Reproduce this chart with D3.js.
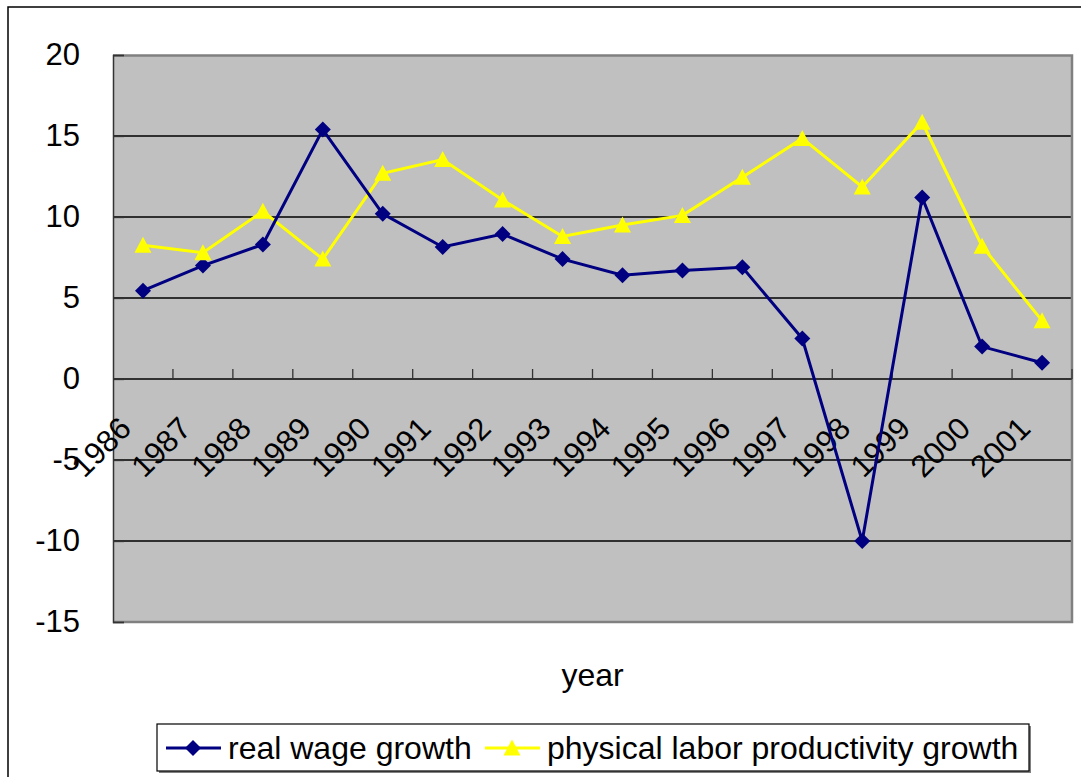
<!DOCTYPE html>
<html>
<head>
<meta charset="utf-8">
<script src="https://cdn.jsdelivr.net/npm/d3@7"></script>
<style>
  body { margin: 0; background: #fff; }
  text { font-family: Arial, "Liberation Sans", sans-serif; fill: #000; }
</style>
</head>
<body>
<div id="chart"></div>
<script>
// chart data
var years = ["1986", "1987", "1988", "1989", "1990", "1991", "1992", "1993",
             "1994", "1995", "1996", "1997", "1998", "1999", "2000", "2001"];
var realWage = [5.45, 7.0, 8.3, 15.4, 10.2, 8.15, 8.95, 7.4, 6.4, 6.7, 6.9, 2.5, -10.0, 11.2, 2.0, 1.0];
var productivity = [8.25, 7.8, 10.35, 7.4, 12.7, 13.55, 11.05, 8.8, 9.5, 10.1, 12.45, 14.85, 11.85, 15.85, 8.2, 3.6];
var yTicks = [-15, -10, -5, 0, 5, 10, 15, 20];
var seriesNames = ["real wage growth", "physical labor productivity growth"];

var svgWidth = 1081;
var svgHeight = 777;

var margin = { top: 55, right: 9, bottom: 155, left: 113 };
var width = svgWidth - margin.left - margin.right;
var height = svgHeight - margin.top - margin.bottom;

var svg = d3.select("#chart")
  .append("svg")
  .attr("width", svgWidth)
  .attr("height", svgHeight);

// outer chart frame
svg.append("rect")
  .attr("x", 8).attr("y", 7)
  .attr("width", 1090).attr("height", 800)
  .attr("fill", "none")
  .attr("stroke", "#000")
  .attr("stroke-width", 1.5);

var chartGroup = svg.append("g")
  .attr("transform", `translate(${margin.left}, ${margin.top})`);

// scales
var xScale = d3.scaleBand()
  .domain(years)
  .range([0, width]);

var yScale = d3.scaleLinear()
  .domain([-15, 20])
  .range([height, 0]);

// plot area
chartGroup.append("rect")
  .attr("width", width)
  .attr("height", height)
  .attr("fill", "#c0c0c0");

// gridlines
chartGroup.selectAll(".grid")
  .data(yTicks.filter(d => d > -15 && d < 20))
  .enter()
  .append("line")
  .attr("x1", 0)
  .attr("x2", width)
  .attr("y1", d => yScale(d))
  .attr("y2", d => yScale(d))
  .attr("stroke", "#000")
  .attr("stroke-width", 1.3);

// plot border (top, right, bottom)
chartGroup.append("path")
  .attr("d", `M0,0.5H${width}V${height}H0`)
  .attr("fill", "none")
  .attr("stroke", "#808080")
  .attr("stroke-width", 2.5);

// y axis
var leftAxis = d3.axisLeft(yScale)
  .tickValues(yTicks)
  .tickFormat(d => String(d))
  .tickSize(-11)
  .tickPadding(33);

var yAxisG = chartGroup.append("g").call(leftAxis);
yAxisG.select(".domain").attr("stroke", "#333").attr("stroke-width", 1.5);
yAxisG.selectAll(".tick line").attr("stroke", "#333").attr("stroke-width", 1.3);
yAxisG.selectAll(".tick text")
  .style("font-size", "31px")
  .attr("fill", "#000");

// x axis drawn at zero, ticks on category boundaries
var zeroY = yScale(0);
chartGroup.append("line")
  .attr("x1", 0).attr("x2", width)
  .attr("y1", zeroY).attr("y2", zeroY)
  .attr("stroke", "#333")
  .attr("stroke-width", 1.5);

chartGroup.selectAll(".xtick")
  .data(years.slice(1).concat(["end"]))
  .enter()
  .append("line")
  .attr("x1", (d, i) => xScale.step() * (i + 1))
  .attr("x2", (d, i) => xScale.step() * (i + 1))
  .attr("y1", zeroY)
  .attr("y2", zeroY - 10)
  .attr("stroke", "#333")
  .attr("stroke-width", 1.3);

// rotated year labels
chartGroup.selectAll(".yearLabel")
  .data(years)
  .enter()
  .append("text")
  .attr("transform", d => `translate(${xScale(d) + xScale.bandwidth() / 2 - 42}, ${zeroY + 68}) rotate(-45)`)
  .attr("dy", "0.35em")
  .style("text-anchor", "middle")
  .style("font-size", "31px")
  .text(d => d);

// lines
var line = d3.line()
  .x((d, i) => xScale(years[i]) + xScale.bandwidth() / 2)
  .y(d => yScale(d));

chartGroup.append("path")
  .datum(productivity)
  .attr("d", line)
  .attr("fill", "none")
  .attr("stroke", "#ffff00")
  .attr("stroke-width", 3);

chartGroup.append("path")
  .datum(realWage)
  .attr("d", line)
  .attr("fill", "none")
  .attr("stroke", "#000080")
  .attr("stroke-width", 3);

var diamond = "M0,-8L8,0L0,8L-8,0Z";
var triangle = "M0,-8.5L8.5,7.5L-8.5,7.5Z";

chartGroup.selectAll(".wagePt")
  .data(realWage)
  .enter()
  .append("path")
  .attr("d", diamond)
  .attr("transform", (d, i) => `translate(${xScale(years[i]) + xScale.bandwidth() / 2}, ${yScale(d)})`)
  .attr("fill", "#000080");

chartGroup.selectAll(".prodPt")
  .data(productivity)
  .enter()
  .append("path")
  .attr("d", triangle)
  .attr("transform", (d, i) => `translate(${xScale(years[i]) + xScale.bandwidth() / 2}, ${yScale(d)})`)
  .attr("fill", "#ffff00");

// axis title
svg.append("text")
  .attr("x", margin.left + width / 2)
  .attr("y", 686)
  .style("text-anchor", "middle")
  .style("font-size", "32px")
  .text("year");

// legend
var legend = svg.append("g");
legend.append("rect")
  .attr("x", 159).attr("y", 726)
  .attr("width", 872).attr("height", 47)
  .attr("fill", "#808080");
legend.append("rect")
  .attr("x", 157).attr("y", 724)
  .attr("width", 872).attr("height", 47)
  .attr("fill", "#fff")
  .attr("stroke", "#000")
  .attr("stroke-width", 1.2);

legend.append("line")
  .attr("x1", 166).attr("x2", 221).attr("y1", 748).attr("y2", 748)
  .attr("stroke", "#000080").attr("stroke-width", 3);
legend.append("path")
  .attr("d", diamond)
  .attr("transform", "translate(193, 748)")
  .attr("fill", "#000080");
legend.append("text")
  .attr("x", 228).attr("y", 759)
  .style("font-size", "32px")
  .text(seriesNames[0]);

legend.append("line")
  .attr("x1", 485).attr("x2", 540).attr("y1", 748).attr("y2", 748)
  .attr("stroke", "#ffff00").attr("stroke-width", 3);
legend.append("path")
  .attr("d", triangle)
  .attr("transform", "translate(512, 748)")
  .attr("fill", "#ffff00");
legend.append("text")
  .attr("x", 547).attr("y", 759)
  .style("font-size", "32px")
  .text(seriesNames[1]);
</script>
</body>
</html>
